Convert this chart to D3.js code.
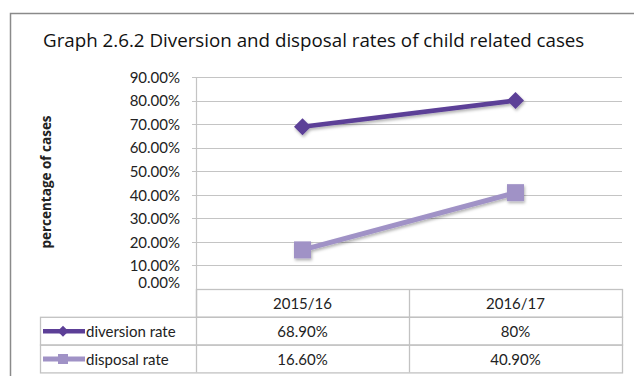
<!DOCTYPE html>
<html>
<head>
<meta charset="utf-8">
<script src="https://cdn.jsdelivr.net/npm/d3@7"></script>
<style>
  html, body { margin: 0; padding: 0; background: #fff; }
  svg { display: block; }
</style>
</head>
<body>
<svg id="chart" width="634" height="376"></svg>
<script>
// Chart data
const categories = ["2015/16", "2016/17"];
const seriesNames = ["diversion rate", "disposal rate"];
const diversionRate = [68.9, 80];
const disposalRate = [16.6, 40.9];
const tableLabels = [["68.90%", "80%"], ["16.60%", "40.90%"]];
const yTicks = [0, 10, 20, 30, 40, 50, 60, 70, 80, 90];

const svg = d3.select("#chart");
const W = 634, H = 376;

const plot = { left: 196, right: 622, top: 77, bottom: 289 };
const rowH = 27.8;
const legendLeft = 40;

const x = d3.scaleBand().domain(categories).range([plot.left, plot.right]);
const y = d3.scaleLinear().domain([0, 90]).range([plot.bottom, plot.top]);

// Square diamond (equal diagonals), sized by its diagonal
const squareDiamond = {
  draw(ctx, size) {
    const r = Math.sqrt(size) / 2;
    ctx.moveTo(0, -r); ctx.lineTo(r, 0); ctx.lineTo(0, r); ctx.lineTo(-r, 0); ctx.closePath();
  }
};

// Drop shadow used by the series lines and markers
const defs = svg.append("defs");
const f = defs.append("filter").attr("id", "shadow")
  .attr("x", "-30%").attr("y", "-30%").attr("width", "160%").attr("height", "160%");
f.append("feDropShadow").attr("dx", 1).attr("dy", 2).attr("stdDeviation", 1.4)
  .attr("flood-color", "#000").attr("flood-opacity", 0.3);

// Outer frame (top and left edges visible)
svg.append("path")
  .attr("d", `M10.5,${H} V13.5 H${W}`)
  .attr("fill", "none").attr("stroke", "#8a8a8a").attr("stroke-width", 1.5);

// Title
svg.append("text")
  .attr("x", 43).attr("y", 47)
  .attr("font-family", "'Open Sans', sans-serif")
  .attr("font-size", 18.75)
  .attr("fill", "#111")
  .text("Graph 2.6.2 Diversion and disposal rates of child related cases");

// Gridlines with small outward ticks
const grid = svg.append("g");
grid.selectAll("line").data(yTicks.filter(d => d > 0)).join("line")
  .attr("x1", plot.left - 4).attr("x2", plot.right)
  .attr("y1", d => Math.round(y(d)) + 0.5).attr("y2", d => Math.round(y(d)) + 0.5)
  .attr("stroke", "#c4c4c4").attr("stroke-width", 1.2);

// Vertical value axis line
svg.append("line")
  .attr("x1", plot.left + 0.5).attr("x2", plot.left + 0.5)
  .attr("y1", y(90)).attr("y2", plot.bottom)
  .attr("stroke", "#c4c4c4").attr("stroke-width", 1.2);

// Y tick labels
const yAxis = d3.axisLeft(y).tickValues(yTicks)
  .tickFormat(d => d.toFixed(2) + "%").tickSize(0).tickPadding(0);
const ya = svg.append("g").attr("transform", `translate(180,0)`).call(yAxis);
ya.select(".domain").remove();
ya.selectAll("text")
  .attr("font-family", "Lato, sans-serif").attr("font-size", 15)
  .attr("fill", "#222").attr("dy", "0.35em");
// 0.00% label sits a little above the zero line
ya.selectAll(".tick").filter(d => d === 0).select("text").attr("dy", "-0.1em");

// Y axis title
svg.append("text")
  .attr("transform", `translate(51,182) rotate(-90)`)
  .attr("text-anchor", "middle")
  .attr("font-family", "'Open Sans', sans-serif").attr("font-weight", "bold")
  .attr("font-size", 13.5).attr("fill", "#222")
  .text("percentage of cases");

// Data table
const tbl = svg.append("g").attr("fill", "none").attr("stroke", "#c2c2c2").attr("stroke-width", 1.3);
const t0 = plot.bottom;
// header row
tbl.append("rect").attr("x", plot.left + 0.5).attr("y", t0 + 0.5)
  .attr("width", plot.right - plot.left).attr("height", rowH);
// value rows
seriesNames.forEach((s, i) => {
  tbl.append("rect").attr("x", legendLeft + 0.5).attr("y", t0 + rowH * (i + 1) + 0.5)
    .attr("width", plot.right - legendLeft).attr("height", rowH);
});
tbl.append("line").attr("x1", plot.left + 0.5).attr("x2", plot.left + 0.5)
  .attr("y1", t0).attr("y2", t0 + rowH * 3);
categories.slice(1).forEach(c => {
  tbl.append("line").attr("x1", x(c) + 0.5).attr("x2", x(c) + 0.5)
    .attr("y1", t0).attr("y2", t0 + rowH * 3);
});

const cellFont = { family: "Lato, sans-serif", size: 15 };
svg.append("g").selectAll("text").data(categories).join("text")
  .attr("x", d => x(d) + x.bandwidth() / 2).attr("y", t0 + rowH / 2 + 1)
  .attr("dy", "0.35em").attr("text-anchor", "middle")
  .attr("font-family", cellFont.family).attr("font-size", cellFont.size).attr("fill", "#222")
  .text(d => d);

tableLabels.forEach((row, i) => {
  svg.append("g").selectAll("text").data(row).join("text")
    .attr("x", (d, j) => x(categories[j]) + x.bandwidth() / 2)
    .attr("y", t0 + rowH * (i + 1.5) + 1)
    .attr("dy", "0.35em").attr("text-anchor", "middle")
    .attr("font-family", cellFont.family).attr("font-size", cellFont.size).attr("fill", "#222")
    .text(d => d);
});

// Series definitions
const series = [
  { name: seriesNames[0], values: diversionRate, color: "#5c3f97", width: 4.5, symbol: squareDiamond, size: 17 * 17, legendSize: 11 * 11 },
  { name: seriesNames[1], values: disposalRate, color: "#a092c6", width: 5, symbol: d3.symbolSquare, size: 290, legendSize: 100 }
];

const line = d3.line()
  .x((d, i) => x(categories[i]) + x.bandwidth() / 2)
  .y(d => y(d));

series.forEach((s, i) => {
  const g = svg.append("g").attr("filter", "url(#shadow)");
  g.append("path").datum(s.values)
    .attr("d", line).attr("fill", "none")
    .attr("stroke", s.color).attr("stroke-width", s.width);
  g.selectAll("path.m").data(s.values).join("path").attr("class", "m")
    .attr("transform", (d, j) => `translate(${x(categories[j]) + x.bandwidth() / 2},${y(d)})`)
    .attr("d", d3.symbol(s.symbol, s.size))
    .attr("fill", s.color);

  // legend key inside the table row
  const ly = t0 + rowH * (i + 1.5) + 0.5;
  const lg = svg.append("g");
  lg.append("line").attr("x1", 43).attr("x2", 85).attr("y1", ly).attr("y2", ly)
    .attr("stroke", s.color).attr("stroke-width", s.width);
  lg.append("path").attr("transform", `translate(63,${ly})`)
    .attr("d", d3.symbol(s.symbol, s.legendSize)).attr("fill", s.color);
  svg.append("text").attr("x", 86).attr("y", ly + 0.5).attr("dy", "0.35em")
    .attr("font-family", cellFont.family).attr("font-size", cellFont.size).attr("fill", "#222")
    .text(s.name);
});
</script>
</body>
</html>
